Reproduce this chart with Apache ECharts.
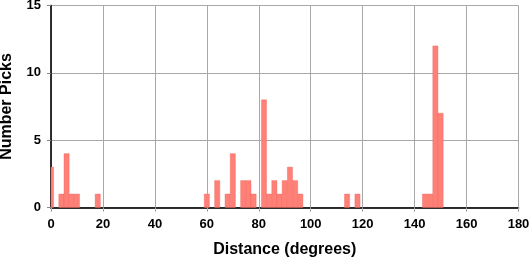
<!DOCTYPE html>
<html>
<head>
<meta charset="utf-8">
<script src="https://cdn.jsdelivr.net/npm/echarts@6/dist/echarts.min.js"></script>
<style>html,body{margin:0;padding:0;background:#fff;}#c{width:530px;height:258px;}</style>
</head>
<body>
<div id="c"></div>
<script>
// Histogram bin centres (degrees) and counts
var binCenters = [0, 4, 6, 8, 10, 18, 60, 64, 68, 70, 74, 76, 78, 82, 84, 86, 88, 90, 92, 94, 96, 114, 118, 144, 146, 148, 150];
var binCounts  = [3, 1, 4, 1, 1, 1, 1, 2, 1, 4, 2, 2, 1, 8, 1, 2, 1, 2, 3, 2, 1, 1, 1, 1, 1, 12, 7];
var binWidth = 2;
var xTicks = [0, 20, 40, 60, 80, 100, 120, 140, 160, 180];
var yTicks = [0, 5, 10, 15];

var FONT = '"Liberation Sans", Arial, Helvetica, sans-serif';
var data = binCenters.map(function (c, i) { return [c, binCounts[i]]; });

var chart = echarts.init(document.getElementById('c'), null, {renderer: 'canvas'});
chart.setOption({
  animation: false,
  backgroundColor: '#ffffff',
  grid: {left: 51, right: 11.5, top: 5.5, bottom: 50.5, containLabel: false, outerBoundsMode: 'none'},
  xAxis: [{
    type: 'value', min: xTicks[0], max: xTicks[xTicks.length - 1], interval: 20,
    name: 'Distance (degrees)', nameLocation: 'middle', nameGap: 34,
    nameTextStyle: {fontFamily: FONT, fontWeight: 'bold', fontSize: 16, color: '#000'},
    axisLine: {show: true, lineStyle: {color: '#222', width: 1.5}},
    axisTick: {show: true, length: 4, lineStyle: {color: '#888', width: 1}},
    axisLabel: {margin: 10, fontFamily: FONT, fontWeight: 'bold', fontSize: 13, color: '#000'},
    splitLine: {show: true, lineStyle: {color: '#a8a8a8', width: 1}}
  }, {
    type: 'value', position: 'top', min: 0, max: 180, interval: 20,
    axisLine: {show: true, lineStyle: {color: '#222', width: 1.5}},
    axisTick: {show: true, inside: true, length: 3, lineStyle: {color: '#aaa', width: 1}},
    axisLabel: {show: false}, splitLine: {show: false}
  }],
  yAxis: [{
    type: 'value', min: yTicks[0], max: yTicks[yTicks.length - 1], interval: 5,
    name: 'Number Picks', nameLocation: 'middle', nameGap: 36,
    nameTextStyle: {fontFamily: FONT, fontWeight: 'bold', fontSize: 16, color: '#000'},
    axisLine: {show: true, lineStyle: {color: '#222', width: 1.5}},
    axisTick: {show: true, length: 4, lineStyle: {color: '#888', width: 1}},
    axisLabel: {margin: 10, fontFamily: FONT, fontWeight: 'bold', fontSize: 13, color: '#000'},
    splitLine: {show: true, lineStyle: {color: '#a8a8a8', width: 1}}
  }, {
    type: 'value', position: 'right', min: 0, max: 15, interval: 5,
    axisLine: {show: true, lineStyle: {color: '#222', width: 1.5}},
    axisTick: {show: false}, axisLabel: {show: false}, splitLine: {show: false}
  }],
  series: [{
    type: 'custom',
    xAxisIndex: 0, yAxisIndex: 0,
    data: data,
    renderItem: function (params, api) {
      var c = api.value(0), v = api.value(1);
      var p0 = api.coord([c - binWidth / 2, 0]);
      var p1 = api.coord([c + binWidth / 2, v]);
      var rect = echarts.graphic.clipRectByRect({
        x: p0[0], y: p1[1], width: p1[0] - p0[0], height: p0[1] - p1[1]
      }, {
        x: params.coordSys.x, y: params.coordSys.y,
        width: params.coordSys.width, height: params.coordSys.height
      });
      return rect && {
        type: 'rect', shape: rect,
        style: {fill: '#ff8077', stroke: 'rgba(235,95,85,0.7)', lineWidth: 0.5}
      };
    },
    z: 1
  }]
});
</script>
</body>
</html>
